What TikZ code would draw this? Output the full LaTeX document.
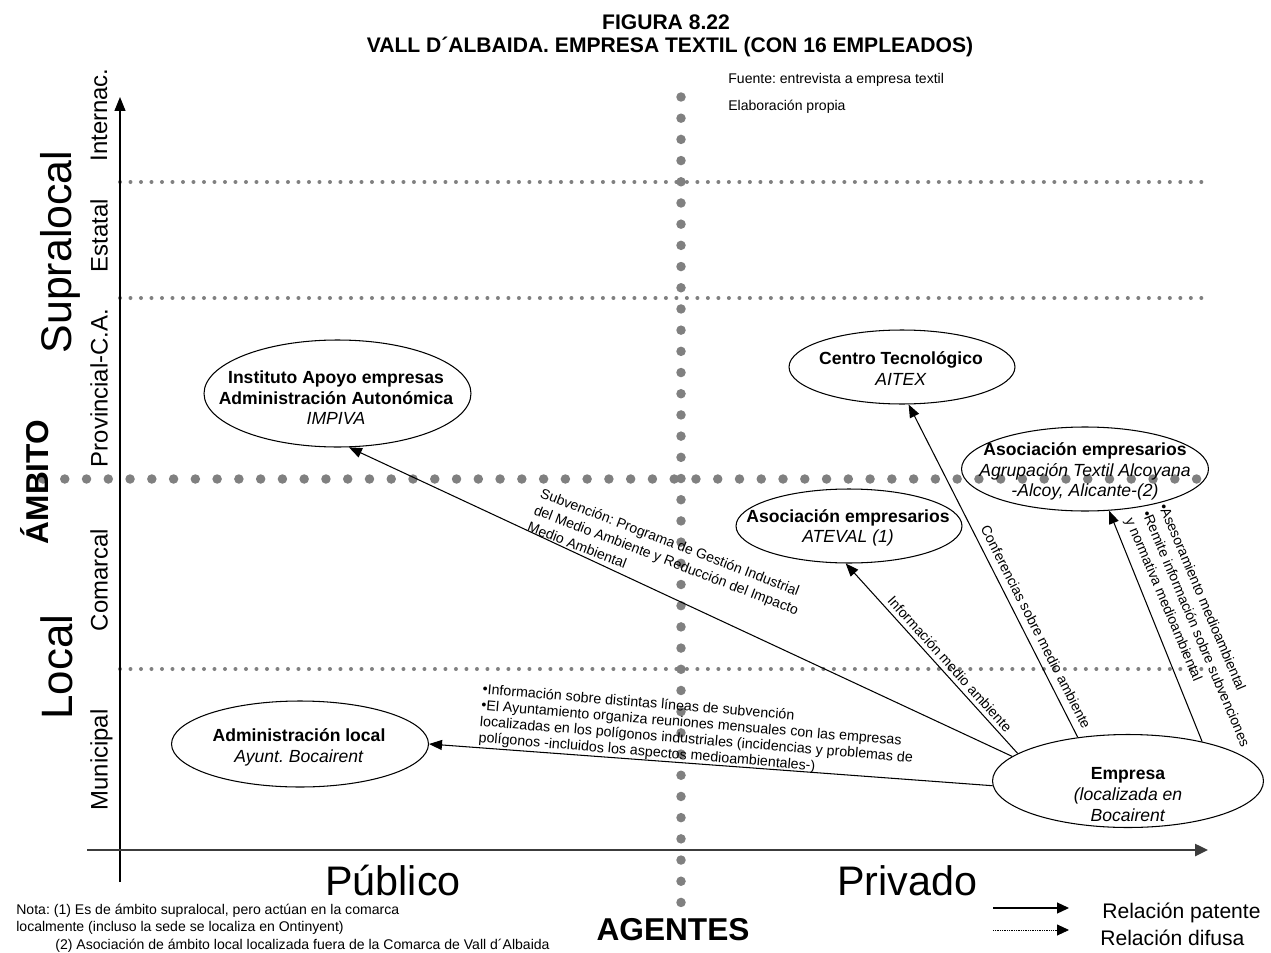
\documentclass[tikz,border=0pt]{standalone}
\usepackage{fontspec}
\setmainfont{Liberation Sans}
\usetikzlibrary{shapes.geometric,arrows.meta}
\newcommand{\fsz}[2]{\fontsize{#1}{#2}\selectfont}
\definecolor{dotgray}{RGB}{128,128,128}
\definecolor{axisgray}{RGB}{60,60,60}
\begin{document}
\frenchspacing
\begin{tikzpicture}[x=0.02cm,y=-0.02cm,
  ell/.style={draw, ellipse, inner sep=0pt, line width=0.6pt},
  eltext/.style={align=center, font=\fsz{10}{11.7}, inner sep=0pt},
  lbl/.style={font=\fsz{8}{10.3}, inner sep=0pt, align=left},
  conn/.style={line width=0.6pt, -{Triangle[length=0.26cm,width=0.2cm]}},
  smalldots/.style={draw=dotgray, line width=0.08cm, line cap=round, dash pattern=on 0pt off 0.21cm},
  bigdotsh/.style={draw=dotgray, line width=0.19cm, line cap=round, dash pattern=on 0pt off 0.4354cm},
  bigdotsv/.style={draw=dotgray, line width=0.19cm, line cap=round, dash pattern=on 0pt off 0.424cm},
  axlbl/.style={rotate=90, font=\fsz{13.6}{16}, inner sep=0pt},
  note/.style={font=\fsz{8}{10}, inner sep=0pt, anchor=west}
]
\useasboundingbox (0,0) rectangle (1271,953);

% title
\node[font=\bfseries\fsz{12}{14}, inner sep=0pt] (t1) at (666,22) {FIGURA 8.22};
\node[font=\bfseries\fsz{12}{14}, inner sep=0pt] (t2) at (670,47) {VALL D´ALBAIDA. EMPRESA TEXTIL (CON 16 EMPLEADOS)};
\node[font=\fsz{8}{10}, inner sep=0pt, anchor=west] (fuente) at (728,80) {Fuente: entrevista a empresa textil};
\node[font=\fsz{8}{10}, inner sep=0pt, anchor=west] (elab) at (728,107) {Elaboración propia};

% grid lines
\draw[smalldots] (120,182) -- (1209,182);
\draw[smalldots] (120,298) -- (1209,298);
\draw[smalldots] (120,669) -- (1209,669);
\draw[bigdotsh] (43,479) -- (1197,479);
\draw[bigdotsv] (681,97) -- (681,903);

% axes
\coordinate (yb) at (120,882);
\coordinate (yt) at (120,97);
\coordinate (xl) at (87,850);
\coordinate (xr) at (1208,850);
\draw[line width=0.7pt, -{Triangle[length=0.28cm,width=0.22cm]}] (yb) -- (yt);
\draw[draw=axisgray, line width=1.4pt, -{Triangle[length=0.26cm,width=0.24cm]}] (xl) -- (xr);

% axis labels
\node[axlbl] (internac) at (99,115) {Internac.};
\node[axlbl] (estatal) at (99,235.5) {Estatal};
\node[axlbl] (provincial) at (99,388) {Provincial-C.A.};
\node[axlbl] (comarcal) at (99,580) {Comarcal};
\node[axlbl] (municipal) at (101.5,760) {Municipal};
\node[rotate=90, font=\fsz{24.4}{28}, inner sep=0pt] (supralocal) at (60,252) {Supralocal};
\node[rotate=90, font=\fsz{25}{28}, inner sep=0pt] (local) at (57,667) {Local};
\node[rotate=90, font=\bfseries\fsz{18}{20}, inner sep=0pt] (ambito) at (35,482) {ÁMBITO};
\node[font=\fsz{23.5}{26}, inner sep=0pt, anchor=base] (publico) at (393,895) {Público};
\node[font=\fsz{23.5}{26}, inner sep=0pt, anchor=base] (privado) at (907,895) {Privado};
\node[font=\bfseries\fsz{18}{20}, inner sep=0pt, anchor=base] (agentes) at (673,940) {AGENTES};

% ellipses
\node[ell, minimum width=5.34cm, minimum height=2.14cm] (impiva) at (337.5,393.5) {};
\node[ell, minimum width=4.52cm, minimum height=1.48cm] (centro) at (902,367) {};
\node[ell, minimum width=4.94cm, minimum height=1.68cm] (agrup) at (1085,469) {};
\node[ell, minimum width=4.52cm, minimum height=1.48cm] (ateval) at (849,526) {};
\node[ell, minimum width=5.14cm, minimum height=1.72cm] (admin) at (300,744) {};
\node[ell, minimum width=5.42cm, minimum height=1.86cm] (emp) at (1128,781) {};

\node[eltext] (impivatxt) at (336,398) {\textbf{Instituto Apoyo empresas}\\\textbf{Administración Autonómica}\\\textit{IMPIVA}};
\node[eltext] (centrotxt) at (901,368.5) {\textbf{Centro Tecnológico}\\\textit{AITEX}};
\node[eltext] (agruptxt) at (1085,471.5) {\textbf{Asociación empresarios}\\\textit{Agrupación Textil Alcoyana}\\\textit{-Alcoy, Alicante-(2)}};
\node[eltext] (atevaltxt) at (848,528) {\textbf{Asociación empresarios}\\\textit{ATEVAL (1)}};
\node[eltext] (admintxt) at (299,747.5) {\textbf{Administración local}\\\textit{Ayunt. Bocairent}};
\node[eltext] (emptxt) at (1128,794.5) {\textbf{Empresa}\\\textit{(localizada en}\\\textit{Bocairent}};

% connectors
\draw[conn] (emp.168) -- (impiva.282);
\draw[conn] (emp.166) -- (ateval.265);
\draw[conn] (emp.139) -- (centro.280);
\draw[conn] (emp.28) -- (agrup.300);
\draw[conn] (emp.182) -- (admin.0);

% connector labels
\node[lbl, rotate=-21, anchor=north west] (lsub) at (543,487) {Subvención: Programa de Gestión Industrial\\del Medio Ambiente y Reducción del Impacto\\Medio Ambiental};
\node[lbl, font=\fsz{8.1}{9.2}, rotate=-4.8, anchor=north west] (lady) at (483,683) {•Información sobre distintas líneas de subvención\\•El Ayuntamiento organiza reuniones mensuales con las empresas\\localizadas en los polígonos industriales (incidencias y problemas de\\polígonos -incluidos los aspectos medioambientales-)};
\node[lbl, rotate=-48] (linf) at (950,664) {Información medio ambiente};
\node[lbl, rotate=-63] (lconf) at (1036,627) {Conferencias sobre medio ambiente};
\node[lbl, rotate=-67] (lase) at (1195,629) {•Asesoramiento medioambiental\\•Remite información sobre subvenciones\\y normativa medioambiental};

% notes
\node[note] (n1) at (16,911) {Nota: (1) Es de ámbito supralocal, pero actúan en la comarca};
\node[note] (n2) at (16,928) {localmente (incluso la sede se localiza en Ontinyent)};
\node[note] (n3) at (55,946) {(2) Asociación de ámbito local localizada fuera de la Comarca de Vall d´Albaida};

% legend
\coordinate (lg1a) at (993,908);
\coordinate (lg1b) at (1069,908);
\coordinate (lg2a) at (993,930);
\coordinate (lg2b) at (1069,930);
\draw[line width=0.7pt, -{Triangle[length=0.24cm,width=0.22cm]}] (lg1a) -- (lg1b);
\draw[line width=0.5pt, dash pattern=on 0.4pt off 0.6pt, -{Triangle[length=0.24cm,width=0.22cm]}] (lg2a) -- (lg2b);
\node[font=\fsz{12}{14}, inner sep=0pt, anchor=west] (leg1) at (1102,913) {Relación patente};
\node[font=\fsz{12}{14}, inner sep=0pt, anchor=west] (leg2) at (1100,938) {Relación difusa};
\end{tikzpicture}
\end{document}
